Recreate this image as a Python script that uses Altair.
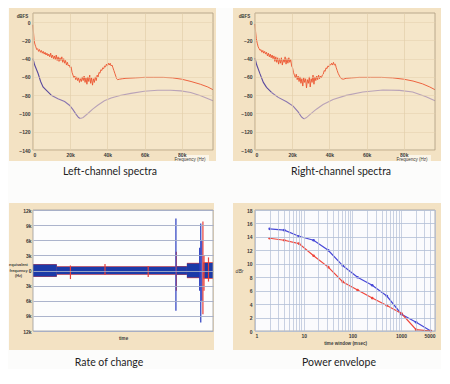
import altair as alt
import pandas as pd

# ---------------- data ----------------
FREQ_TICKS = [0, 20, 40, 60, 80]           # kHz
DB_TICKS = [0, -20, -40, -60, -80, -100, -120, -140]

# Left channel: signal spectrum (kHz, dBFS)
L_RED = [(0,-3),(0.3,-12),(0.6,-20),(1.0,-24),(1.5,-27),(2.0,-30),(2.5,-29),(3.0,-32),(3.5,-30),(4.0,-33),
         (4.5,-31),(5.0,-34),(5.5,-32),(6.0,-35),(6.5,-33),(7.0,-36),(7.5,-34),(8.0,-37),(8.5,-35),(9.0,-38),
         (9.5,-34),(10.0,-39),(10.5,-36),(11.0,-40),(11.5,-37),(12.0,-41),(12.5,-36),(13.0,-42),(13.5,-38),(14.0,-43),
         (14.5,-39),(15.0,-42),(15.5,-38),(16.0,-44),(16.5,-40),(17.0,-45),(17.5,-42),(18.0,-47),(18.5,-44),(19.0,-48),
         (19.5,-47),(20.0,-50),(20.5,-49),(21.0,-55),(21.5,-58),(22.0,-61),(22.5,-59),(23.0,-63),(23.5,-60),(24.0,-64),
         (24.5,-61),(25.0,-66),(25.5,-62),(26.0,-65),(26.5,-60),(27.0,-64),(27.5,-59),(28.0,-66),(28.5,-61),(29.0,-68),
         (29.5,-60),(30.0,-65),(30.5,-58),(31.0,-67),(31.5,-61),(32.0,-69),(32.5,-62),(33.0,-66),(33.5,-60),(34.0,-64),
         (34.5,-58),(35.0,-60),(35.5,-55),(36.0,-56),(36.5,-52),(37.0,-53),(37.5,-50),(38.0,-51),(38.5,-48),(39.0,-49),
         (39.5,-46),(40.0,-48),(40.5,-45),(41.0,-47),(41.5,-45),(42.0,-48),(42.5,-47),(43.0,-50),(43.5,-53),(44.0,-56),
         (44.5,-59),(45.0,-62),(45.5,-63),(46.5,-62.5),(48,-62),(50,-61.5),(55,-61),(60,-60.5),(65,-60.5),(70,-60.5),
         (75,-61),(80,-62.5),(85,-65),(90,-68),(94,-71),(96.8,-74)]
# Left channel: noise floor
L_BLUE = [(0,-40),(0.9,-47),(2.7,-56),(4.1,-65),(5.4,-71),(7.1,-74.5),(9.8,-80),(13.4,-84),(17,-87),(19.6,-91),
          (21.4,-95.6),(23.2,-101),(24.5,-104.4),(25.5,-105.5),(27,-104.4),(29.5,-100),(32.1,-95.3),(34.8,-91),
          (38.4,-86),(42,-83),(47.3,-80),(52.7,-78),(59.8,-75.6),(67,-74.5),(74,-74.5),(79.5,-75.3),(84.8,-77),
          (90.2,-80.7),(96.8,-86)]
L_SPLIT = [9.8, 25.5]      # where the noise-floor trace changes tint

# Right channel: signal spectrum
R_RED = [(0,-2),(0.3,-10),(0.7,-18),(1.2,-23),(1.7,-27),(2.2,-29),(2.7,-31),(3.2,-30),(3.7,-33),(4.2,-31),
         (4.7,-34),(5.2,-32),(5.7,-35),(6.2,-33),(6.7,-37),(7.2,-34),(7.7,-38),(8.2,-35),(8.7,-39),(9.2,-36),
         (9.7,-40),(10.2,-37),(10.7,-43),(11.2,-38),(11.7,-44),(12.2,-39),(12.7,-46),(13.2,-40),(13.7,-45),(14.2,-39),
         (14.7,-47),(15.2,-41),(15.7,-44),(16.2,-38),(16.7,-46),(17.2,-40),(17.7,-45),(18.2,-39),(18.7,-44),(19.2,-41),
         (19.7,-48),(20.2,-50),(20.7,-55),(21.2,-58),(21.7,-61),(22.2,-57),(22.7,-63),(23.2,-59),(23.7,-65),(24.2,-60),
         (24.7,-67),(25.2,-62),(25.7,-70),(26.2,-61),(26.7,-66),(27.2,-62),(27.7,-72),(28.2,-63),(28.7,-67),(29.2,-60),
         (29.7,-71),(30.2,-62),(30.7,-66),(31.2,-58),(31.7,-68),(32.2,-60),(32.7,-64),(33.2,-59),(33.7,-63),(34.2,-58),
         (34.7,-62),(35.2,-59),(35.7,-61),(36.2,-58),(36.7,-57),(37.2,-53),(37.7,-54),(38.2,-50),(38.7,-51),(39.2,-48),
         (39.7,-49),(40.2,-46),(40.7,-47),(41.2,-45),(41.7,-47),(42.2,-44),(42.7,-47),(43.2,-46),(43.7,-50),(44.2,-53),
         (44.7,-56),(45.2,-58),(45.7,-60),(46.5,-62),(47.5,-62.5),(49,-61.5),(52,-61),(56,-60.5),(62,-60.5),(68,-60.5),
         (74,-61),(80,-62.5),(85,-64.5),(90,-67.5),(94,-71),(96.8,-74)]
# Right channel: noise floor
R_BLUE = [(0,-39.4),(0.9,-46.7),(2.7,-56.7),(4.5,-66),(6.2,-71.4),(8.9,-77),(12.5,-82.4),(17,-87.2),(20.5,-92),
          (23.2,-98.3),(25,-103.8),(26.3,-106),(27.7,-104.5),(29.8,-100.8),(33,-95.3),(36.6,-90.2),(42,-84.6),
          (49,-80.2),(58,-76.5),(68.8,-74.3),(77.7,-74.7),(84.8,-76.5),(92,-81.7),(96.8,-86)]
R_SPLIT = [8.9, 26.3]

# Rate of change: band segments (time units 0-100, half widths in Hz)
SEG_T0 = [0, 13.2, 79.8, 85.5, 94.6]
SEG_T1 = [13.2, 79.2, 85.5, 93.0, 100]
SEG_BLUE_HALF = [1200, 750, 800, 1400, 1500]
SEG_RED_HALF = [1280, 850, 880, 1520, 1650]
SPIKE_T = [20.8, 40.0, 64.0, 79.6, 79.4, 92.6, 93.2, 93.8, 94.4, 95.0, 97.5]
SPIKE_LO = [-1700, -900, -1300, -4000, -8000, -4000, -10300, -6000, -8700, -4000, -2200]
SPIKE_HI = [1000, 1300, 900, 3700, 10300, 4500, 9300, 6000, 9700, 3000, 2600]
SPIKE_COL = ["#e8413a", "#e8413a", "#e8413a", "#e8413a", "#2a3cc0", "#2a3cc0", "#2a3cc0",
             "#2a3cc0", "#e8413a", "#e8413a", "#e8413a"]
ROC_TICKS = [-12000, -9000, -6000, -3000, 0, 3000, 6000, 9000, 12000]

# Power envelope
PW_WIN = [2, 4, 8, 16, 32, 64, 128, 256, 512, 1024, 2048, 4096]
PW_BLUE = [15.2, 15.0, 14.1, 13.5, 12.0, 9.7, 8.0, 6.8, 5.2, 2.5, 1.3, 0.0]
PW_RED = [13.8, 13.5, 13.0, 11.2, 9.5, 7.3, 6.1, 4.9, 3.8, 2.6, 0.2, 0.0]
PW_GRID = [1,2,3,4,5,6,7,8,9,10,20,30,40,50,60,70,80,90,100,200,300,400,500,600,700,800,900,
           1000,2000,3000,4000,5000]
PW_Y = [0, 2, 4, 6, 8, 10, 12, 14, 16, 18]

PANEL_TITLES = ["Left-channel spectra", "Right-channel spectra", "Rate of change", "Power envelope"]

# ---------------- styles ----------------
BEIGE = "#f3e2c3"
PLOT_BEIGE = "#f5e6c9"
GRID_SP = "#e3cfaa"
RED = "#ec5530"
FONT = "Liberation Sans"
ONE = pd.DataFrame({"k": [0]})
AX = dict(zindex=1, labelFont=FONT, titleFont=FONT, labelColor="#3a3a3a", titleColor="#3a3a3a",
          labelFontWeight="bold", ticks=False, domain=False, labelFontSize=5)
PW_, PH1, PH2 = 180, 137, 121   # plot sizes: all panels same width, per-row heights


def frame_rects(W, H, l, r, t, b, plot_fill, border):
    bg = alt.Chart(ONE).mark_rect(fill=BEIGE).encode(
        x=alt.value(-l), x2=alt.value(W + r), y=alt.value(-t), y2=alt.value(H + b))
    pf = alt.Chart(ONE).mark_rect(fill=plot_fill).encode(
        x=alt.value(0), x2=alt.value(W), y=alt.value(0), y2=alt.value(H))
    bd = alt.Chart(ONE).mark_rect(filled=False, stroke=border, strokeWidth=0.8).encode(
        x=alt.value(0), x2=alt.value(W), y=alt.value(0), y2=alt.value(H))
    return bg, pf, bd


def caption(text, cx, cy):
    return alt.Chart(ONE).mark_text(text=text, font="Lato", fontSize=10.5, color="#1e1e1e",
                                    align="center", baseline="middle").encode(
        x=alt.value(cx), y=alt.value(cy))


def spectrum(red_pairs, blue_pairs, split, title, l, r, cx):
    W, H = PW_, PH1
    red = pd.DataFrame(red_pairs, columns=["f", "db"])
    blue = pd.DataFrame(blue_pairs, columns=["f", "db"])
    X = alt.X("f:Q", scale=alt.Scale(domain=[0, 96.8], nice=False, zero=False),
              axis=alt.Axis(values=FREQ_TICKS,
                            labelExpr="datum.value == 0 ? '0' : datum.value + 'k'",
                            title="Frequency (Hz)", titleX=W - 8, titleY=9, titleAlign="right",
                            titleBaseline="middle", titleFontSize=4.5, titleFontWeight="normal",
                            grid=True, gridColor=GRID_SP, gridWidth=0.7, labelPadding=2, **AX))
    Y = alt.Y("db:Q", scale=alt.Scale(domain=[-140, 10], nice=False),
              axis=alt.Axis(values=DB_TICKS, title="dBFS", titleAngle=0, titleX=-11, titleY=3,
                            titleAlign="center", titleBaseline="middle", titleFontSize=4.5,
                            titleFontWeight="bold",
                            grid=True, gridColor=GRID_SP, gridWidth=0.5, labelPadding=3, **AX))
    bg, pf, bd = frame_rects(W, H, l, r, 5, 11, PLOT_BEIGE, "#a99a7e")
    box = alt.Chart(ONE).mark_rect(fill="#fbf5e8").encode(
        x=alt.value(W - 36), x2=alt.value(W - 4), y=alt.value(H + 5), y2=alt.value(H + 11))
    s1, s2 = split
    b1 = alt.Chart(blue).transform_filter(f"datum.f <= {s1}").mark_line(
        color="#5a4a9e", strokeWidth=1.1).encode(x=X, y=Y)
    b2 = alt.Chart(blue).transform_filter(f"datum.f >= {s1} && datum.f <= {s2}").mark_line(
        color="#8a76b0", strokeWidth=1.1).encode(x=X, y=Y)
    b3 = alt.Chart(blue).transform_filter(f"datum.f >= {s2}").mark_line(
        color="#b9a3b8", strokeWidth=1.1).encode(x=X, y=Y)
    rl = alt.Chart(red).mark_line(color=RED, strokeWidth=0.9).encode(x=X, y=Y)
    return alt.layer(bg, pf, box, b1, b2, b3, rl, bd, caption(title, cx, H + 22)).properties(
        width=W, height=H)


tl = spectrum(L_RED, L_BLUE, L_SPLIT, PANEL_TITLES[0], 24, 3, 77)
tr = spectrum(R_RED, R_BLUE, R_SPLIT, PANEL_TITLES[1], 22, 6, 86)

# ---------- rate of change ----------
W3, H3 = PW_, PH2
band = pd.DataFrame({"t0": SEG_T0, "t1": SEG_T1, "b": SEG_BLUE_HALF, "r": SEG_RED_HALF})
spikes = pd.DataFrame({"t": SPIKE_T, "lo": SPIKE_LO, "hi": SPIKE_HI, "c": SPIKE_COL})
XS3 = alt.Scale(domain=[0, 100], nice=False, zero=False)
YS3 = alt.Scale(domain=[-12000, 12000], nice=False)
X3 = alt.X("t0:Q", scale=XS3,
           axis=alt.Axis(title="time", labels=False, grid=False,
                         titleFontSize=4.5, titleY=7, titleBaseline="middle", titleFontWeight="bold",
                         **AX))
Y3 = alt.Y("lo:Q", scale=YS3,
           axis=alt.Axis(values=ROC_TICKS,
                         labelExpr="datum.value == 0 ? '0' : abs(datum.value) / 1000 + 'k'",
                         title=["equivalent", "frequency", "(Hz)"], titleAngle=0, titleX=-15,
                         titleY=H3 / 2 - 6, titleAlign="center", titleBaseline="middle",
                         titleFontSize=3.8, titleLineHeight=5.5, titleFontWeight="bold",
                         grid=True, gridColor="#a3abc6", gridWidth=0.9, labelPadding=2, **AX))
bg3, pf3, bd3 = frame_rects(W3, H3, 24, 1, 7, 19, "#fdfdfd", "#9a9a9a")
red_band = alt.Chart(band).transform_calculate(lo="-datum.r", hi="datum.r").mark_rect(
    color="#e8413a").encode(x=X3, x2="t1:Q", y=Y3, y2="hi:Q")
blue_band = alt.Chart(band).transform_calculate(lo="-datum.b", hi="datum.b").mark_rect(
    color="#1c3aa8").encode(x=X3, x2="t1:Q", y=Y3, y2="hi:Q")
sp = alt.Chart(spikes).transform_calculate(t0="datum.t").mark_rule(strokeWidth=1.2).encode(
    x=X3, y=Y3, y2="hi:Q", color=alt.Color("c:N", scale=None))
bl = alt.layer(bg3, pf3, red_band, blue_band, sp, bd3, caption(PANEL_TITLES[2], 76, H3 + 32)).properties(
    width=W3, height=H3)

# ---------- power envelope ----------
W4, H4 = PW_, PH2
pw = pd.DataFrame({"w": PW_WIN * 2, "v": PW_BLUE + PW_RED,
                   "c": ["#4848d8"] * len(PW_WIN) + ["#f0463c"] * len(PW_WIN)})
X4 = alt.X("w:Q", scale=alt.Scale(type="log", domain=[1, 5000], nice=False),
           axis=alt.Axis(values=PW_GRID, format="d",
                         labelExpr="indexof([1, 10, 100, 1000, 5000], datum.value) >= 0 ? datum.label : ''",
                         title="time window (msec)", titleFontSize=4.5, titleY=12,
                         titleBaseline="middle", titleFontWeight="bold",
                         grid=True, gridColor="#b3bfd6", gridWidth=0.7, labelPadding=2, **AX))
Y4 = alt.Y("v:Q", scale=alt.Scale(domain=[0, 18], nice=False),
           axis=alt.Axis(values=PW_Y, title="dBr", titleAngle=0, titleX=-16, titleY=H4 / 2,
                         titleAlign="center", titleBaseline="middle", titleFontSize=5,
                         titleFontWeight="normal", titleFontStyle="italic",
                         grid=True, gridColor="#b3bfd6", gridWidth=0.8, labelPadding=3, **AX))
bg4, pf4, bd4 = frame_rects(W4, H4, 22, 6, 7, 19, "#fbfbfd", "#9a9a9a")
lines4 = alt.Chart(pw).mark_line(strokeWidth=1.2, point=alt.OverlayMarkDef(size=7, filled=True)).encode(
    x=X4, y=Y4, color=alt.Color("c:N", scale=None))
br = alt.layer(bg4, pf4, lines4, bd4, caption(PANEL_TITLES[3], 84, H4 + 32)).properties(
    width=W4, height=H4)

# flush bounds: cells are laid out by their plot areas only
chart = alt.concat(tl, tr, bl, br, columns=2, bounds="flush",
                   spacing={"row": 60, "column": 42}).properties(
    padding=0, background="#fcfcfb"
).configure_view(strokeWidth=0)

chart.save("out.html", embed_options={"renderer": "svg", "actions": False})
